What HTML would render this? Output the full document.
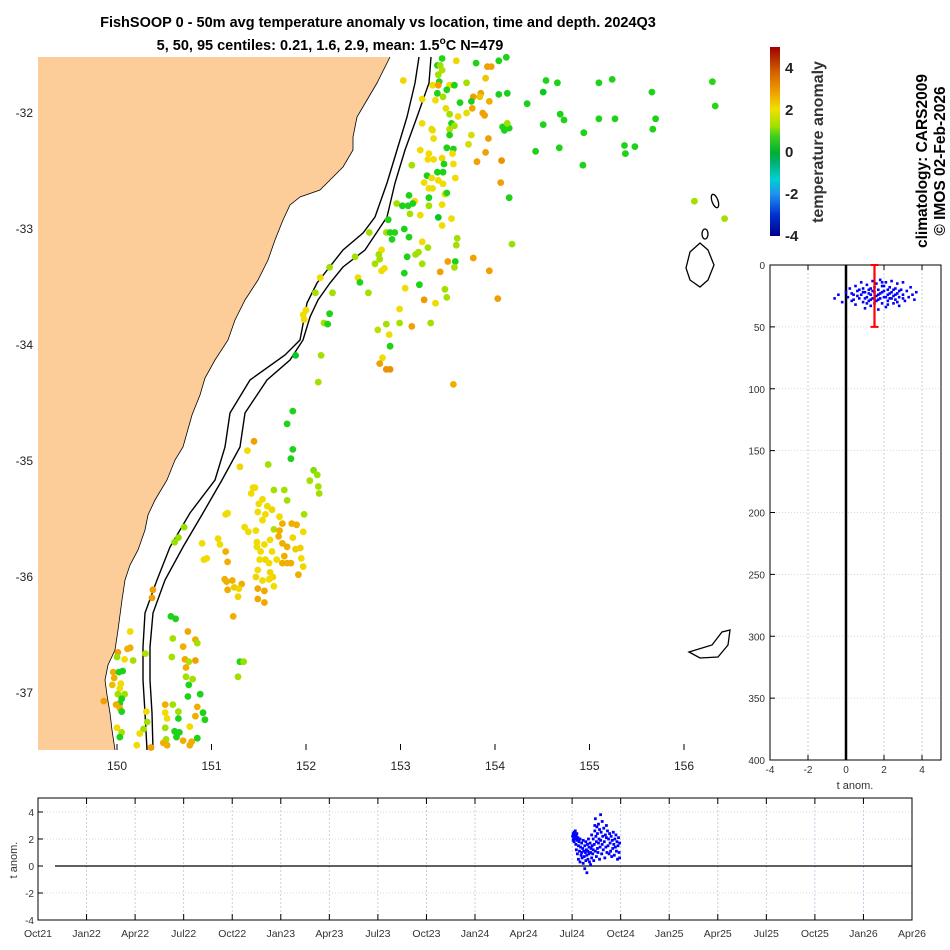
<!DOCTYPE html>
<html><head><meta charset="utf-8"><style>
html,body{margin:0;padding:0;background:#fff;}
svg{display:block;font-family:"Liberation Sans",sans-serif;}
</style></head><body>
<svg id="fig" width="950" height="950" viewBox="0 0 950 950">
<text x="378" y="27" text-anchor="middle" font-size="14.5" font-weight="bold">FishSOOP 0 - 50m avg temperature anomaly vs location, time and depth. 2024Q3</text>
<text x="330" y="50" text-anchor="middle" font-size="14.5" font-weight="bold">5, 50, 95 centiles: 0.21, 1.6, 2.9, mean: 1.5<tspan dy="-6" font-size="10">o</tspan><tspan dy="6">C N=479</tspan></text>
<g id="map">
<polygon fill="#fccc99" stroke="none" points="38,57 390,57 377,83 367,100 357,117 353,137 353,150 343,167 333,177 320,190 300,197 290,205 283,220 275,240 268,260 258,280 245,300 235,320 228,340 215,360 205,378 200,395 192,415 183,447 175,460 167,480 155,500 148,515 145,530 138,550 130,565 125,580 122,600 118,630 115,650 108,665 105,680 107,695 110,713 112,730 115,750 38,750"/>
<polyline fill="none" stroke="#000" stroke-width="0.8" points="390,57 377,83 367,100 357,117 353,137 353,150 343,167 333,177 320,190 300,197 290,205 283,220 275,240 268,260 258,280 245,300 235,320 228,340 215,360 205,378 200,395 192,415 183,447 175,460 167,480 155,500 148,515 145,530 138,550 130,565 125,580 122,600 118,630 115,650 108,665 105,680 107,695 110,713 112,730 115,750"/>
<polyline fill="none" stroke="#000" stroke-width="1.4" points="419,57 415,83 407,117 397,150 387,183 375,217 363,233 343,250 317,283 307,303 300,340 285,355 250,380 230,413 225,447 215,480 190,513 170,547 157,580 145,613 143,647 143,680 145,713 147,750"/>
<polyline fill="none" stroke="#000" stroke-width="1.4" points="431,57 429,83 417,117 405,150 395,183 387,217 365,250 343,267 330,283 318,300 310,317 303,340 290,360 267,380 245,413 240,447 222,480 203,513 183,547 165,580 153,613 150,647 150,680 152,713 153,750"/>
<ellipse cx="715" cy="201" rx="3" ry="7" fill="none" stroke="#000" stroke-width="1.3" transform="rotate(-20 715 201)"/>
<ellipse cx="705" cy="234" rx="3" ry="5" fill="none" stroke="#000" stroke-width="1.3"/>
<path d="M700,243 L708,250 L714,265 L708,280 L700,287 L690,280 L686,268 L690,252 Z" fill="none" stroke="#000" stroke-width="1.3"/>
<path d="M689,652 L712,645 L722,632 L730,630 L728,645 L718,657 L700,658 Z" fill="none" stroke="#000" stroke-width="1.3"/>
<g id="dots"></g>
<g id="mapticks" font-size="12" fill="#222"></g>
</g>
<g>
<defs><linearGradient id="cg" x1="0" y1="1" x2="0" y2="0">
<stop offset="0" stop-color="#00008c"/><stop offset="0.11" stop-color="#0030d0"/><stop offset="0.22" stop-color="#2090f0"/><stop offset="0.3" stop-color="#00d0d0"/><stop offset="0.39" stop-color="#00b070"/><stop offset="0.44" stop-color="#00b030"/><stop offset="0.53" stop-color="#40d020"/><stop offset="0.58" stop-color="#a0e000"/><stop offset="0.67" stop-color="#f0e000"/><stop offset="0.76" stop-color="#f0a000"/><stop offset="0.87" stop-color="#d06000"/><stop offset="1" stop-color="#a00000"/></linearGradient></defs>
<rect x="770" y="47" width="10" height="189" fill="url(#cg)"/>
<g font-size="15" font-weight="bold" fill="#222">
<text x="785" y="73">4</text><text x="785" y="115">2</text><text x="785" y="157">0</text><text x="785" y="199">-2</text><text x="785" y="241">-4</text></g>
<text transform="translate(823,142) rotate(-90)" text-anchor="middle" font-size="16" font-weight="bold" fill="#333">temperature anomaly</text>
</g>
<text transform="translate(927,161) rotate(-90)" text-anchor="middle" font-size="15.5" font-weight="bold">climatology: CARS2009</text>
<text transform="translate(945,161) rotate(-90)" text-anchor="middle" font-size="15.5" font-weight="bold">© IMOS 02-Feb-2026</text>
<g id="prof"></g>
<g id="ts"></g>
</svg>
<script>
const lon=[153.44,153.59,153.80,153.92,153.96,154.04,154.12,153.39,153.42,153.44,153.40,153.03,153.41,153.34,153.40,153.52,153.57,153.70,153.90,154.54,154.66,155.10,155.24,156.30,156.33,154.51,155.66,153.49,153.39,153.45,153.77,153.85,153.84,153.75,153.63,153.94,154.04,154.13,154.34,153.23,153.37,153.48,153.76,153.87,153.89,153.70,153.52,153.61,154.69,154.73,155.10,155.27,155.70,155.67,154.51,153.23,153.54,153.57,153.52,154.08,154.15,154.13,154.10,153.34,153.33,153.52,153.75,153.35,153.93,154.94,153.72,154.43,154.68,155.37,155.48,155.38,153.49,153.56,153.21,153.30,153.29,153.35,153.44,153.55,153.46,153.56,153.90,153.81,154.07,153.12,154.93,153.28,153.39,153.45,153.33,153.40,153.58,153.25,153.45,153.30,153.34,154.06,154.15,153.09,153.15,153.47,153.49,153.30,152.96,153.02,153.08,153.13,153.30,153.44,153.10,153.21,153.40,153.54,153.44,152.87,152.85,152.89,152.94,152.67,153.04,153.09,152.91,153.23,153.29,153.60,153.59,154.18,156.11,156.43,152.80,152.77,152.78,152.73,152.83,152.80,152.52,152.25,152.15,153.07,153.16,153.19,153.23,153.50,153.58,153.57,153.77,153.94,153.42,153.04,152.55,152.57,153.05,153.20,153.47,153.49,153.25,153.37,154.03,152.10,152.28,152.66,152.99,152.85,152.99,153.12,153.32,152.76,152.88,152.89,152.16,152.81,152.78,152.85,152.89,152.00,151.97,151.98,152.25,152.19,152.23,153.56,151.89,
152.13,151.86,151.80,151.45,151.38,151.86,151.84,151.60,151.30,152.08,152.12,152.04,152.13,152.14,151.44,151.46,151.42,151.66,151.77,151.80,151.54,151.50,151.59,151.64,151.49,151.57,151.54,151.98,151.17,151.15,151.72,151.35,151.39,151.47,151.66,151.75,151.85,151.90,151.72,151.86,151.97,151.71,151.75,151.80,151.89,151.94,151.62,151.56,151.48,151.48,151.52,151.64,151.57,151.51,151.61,151.69,151.77,151.75,151.80,151.84,151.95,151.97,151.49,151.47,151.62,151.65,151.61,151.54,151.66,151.92,151.49,151.56,151.49,151.56,151.07,151.09,150.90,150.92,150.95,151.15,151.17,151.14,151.16,151.22,151.32,151.24,151.29,151.17,151.28,151.23,150.71,150.65,150.61,150.38,150.37,150.57,150.62,151.30,151.34,151.28,150.14,150.11,150.14,150.01,150.00,150.08,150.17,150.30,150.75,150.83,150.85,150.59,150.70,150.58,150.72,150.83,150.76,150.73,150.73,150.80,150.76,150.75,150.88,149.96,150.02,150.06,149.97,149.95,150.04,150.03,150.01,150.08,150.05,150.03,149.99,150.03,150.05,149.86,150.31,150.32,150.28,150.24,150.21,150.51,150.59,150.85,150.91,150.93,150.65,150.51,150.53,150.65,150.83,150.51,150.61,150.66,150.77,150.52,150.70,150.79,150.85,150.49,150.53,150.63,150.77,150.00,150.05,150.03,150.36];
const lat=[-31.53,-31.55,-31.57,-31.60,-31.60,-31.55,-31.52,-31.59,-31.59,-31.63,-31.67,-31.72,-31.73,-31.76,-31.76,-31.76,-31.76,-31.74,-31.70,-31.72,-31.74,-31.74,-31.71,-31.73,-31.94,-31.82,-31.82,-31.80,-31.83,-31.86,-31.86,-31.83,-31.86,-31.90,-31.91,-31.90,-31.84,-31.83,-31.92,-31.88,-31.89,-31.96,-31.96,-32.00,-32.02,-32.00,-32.01,-32.03,-32.01,-32.06,-32.05,-32.05,-32.05,-32.14,-32.10,-32.09,-32.09,-32.11,-32.14,-32.12,-32.13,-32.09,-32.15,-32.15,-32.14,-32.19,-32.19,-32.22,-32.22,-32.17,-32.27,-32.33,-32.30,-32.28,-32.29,-32.35,-32.30,-32.31,-32.32,-32.35,-32.40,-32.40,-32.39,-32.35,-32.44,-32.44,-32.34,-32.42,-32.41,-32.45,-32.45,-32.54,-32.51,-32.51,-32.56,-32.58,-32.56,-32.60,-32.61,-32.65,-32.65,-32.60,-32.73,-32.71,-32.76,-32.70,-32.69,-32.73,-32.78,-32.80,-32.80,-32.78,-32.80,-32.79,-32.87,-32.88,-32.90,-32.91,-32.97,-32.92,-33.03,-33.03,-33.03,-33.03,-33.00,-33.07,-33.09,-33.11,-33.16,-33.08,-33.14,-33.13,-32.76,-32.91,-33.18,-33.22,-33.26,-33.30,-33.34,-33.36,-33.24,-33.33,-33.42,-33.24,-33.22,-33.20,-33.30,-33.28,-33.28,-33.33,-33.25,-33.36,-33.37,-33.38,-33.42,-33.46,-33.51,-33.48,-33.52,-33.59,-33.61,-33.64,-33.60,-33.55,-33.55,-33.55,-33.69,-33.82,-33.81,-33.84,-33.81,-33.87,-33.91,-34.01,-34.09,-34.11,-34.16,-34.21,-34.21,-33.70,-33.74,-33.78,-33.73,-33.81,-33.82,-34.34,-34.09,
-34.32,-34.57,-34.68,-34.83,-34.91,-34.90,-34.98,-35.03,-35.05,-35.08,-35.12,-35.17,-35.22,-35.28,-35.23,-35.23,-35.28,-35.25,-35.25,-35.34,-35.33,-35.37,-35.39,-35.42,-35.44,-35.46,-35.51,-35.46,-35.45,-35.46,-35.48,-35.57,-35.61,-35.60,-35.59,-35.54,-35.54,-35.55,-35.60,-35.66,-35.61,-35.65,-35.71,-35.74,-35.76,-35.75,-35.68,-35.72,-35.70,-35.74,-35.78,-35.78,-35.85,-35.85,-35.88,-35.85,-35.82,-35.88,-35.88,-35.88,-35.84,-35.91,-35.94,-36.00,-35.96,-36.00,-36.02,-36.03,-36.08,-35.98,-36.10,-36.12,-36.19,-36.22,-35.67,-35.72,-35.71,-35.85,-35.84,-35.78,-35.87,-36.02,-36.04,-36.03,-36.06,-36.09,-36.10,-36.11,-36.17,-36.34,-35.57,-35.66,-35.70,-36.11,-36.18,-36.34,-36.36,-36.73,-36.73,-36.86,-36.47,-36.62,-36.61,-36.65,-36.69,-36.71,-36.72,-36.66,-36.47,-36.54,-36.57,-36.53,-36.60,-36.69,-36.71,-36.72,-36.73,-36.78,-36.86,-36.88,-36.93,-37.03,-37.01,-36.82,-36.82,-36.81,-36.87,-36.93,-36.92,-36.96,-37.01,-37.01,-37.05,-37.09,-37.10,-37.13,-37.16,-37.07,-37.16,-37.25,-37.31,-37.35,-37.45,-37.10,-37.10,-37.12,-37.17,-37.23,-37.16,-37.17,-37.22,-37.22,-37.20,-37.30,-37.33,-37.34,-37.29,-37.40,-37.41,-37.42,-37.39,-37.43,-37.45,-37.38,-37.45,-37.30,-37.34,-37.38,-37.47];
const anom=[0.7,2.1,0.6,2.8,2.8,0.6,0.6,0.6,1.4,1.5,1.4,2.1,0.7,2.0,2.8,2.0,0.6,1.4,2.3,0.6,0.6,0.6,0.6,0.8,0.8,0.2,0.6,0.6,0.6,1.4,2.8,2.8,2.3,0.5,0.6,2.6,0.5,0.5,0.5,2.0,2.0,1.9,2.7,2.8,2.8,1.9,1.4,2.0,0.6,0.6,0.6,0.6,0.6,0.6,0.6,2.0,0.6,1.4,1.5,0.6,0.5,1.3,0.6,2.0,1.9,0.6,1.8,2.0,2.8,0.6,1.8,0.6,0.6,0.6,0.6,0.6,0.6,0.6,2.0,2.0,2.0,2.0,2.1,2.0,0.6,2.0,2.8,2.8,3.0,1.4,0.6,0.5,0.6,0.6,2.0,2.0,2.0,2.0,2.0,2.0,2.0,2.8,0.6,0.6,2.0,2.0,0.7,0.6,1.4,0.6,0.6,0.6,1.4,2.0,1.4,2.0,0.2,2.0,2.0,0.7,1.4,0.7,0.7,1.4,0.6,0.6,0.6,2.0,1.4,1.4,1.4,1.3,1.4,1.4,2.0,1.4,1.4,1.4,2.0,2.0,1.4,1.4,2.0,0.6,1.4,1.4,1.4,2.8,0.5,1.4,2.8,2.8,2.8,0.6,2.0,0.6,2.0,0.6,1.4,1.4,2.9,2.0,2.8,1.4,1.4,1.4,2.0,1.4,1.4,2.8,1.4,1.6,2.0,0.6,1.4,2.0,2.8,3.0,3.0,2.0,2.0,2.0,0.6,1.4,0.6,2.6,0.2,
1.4,0.6,0.6,2.8,2.0,0.6,0.6,1.4,2.1,1.2,1.3,1.4,1.4,1.4,2.0,2.0,2.0,1.4,1.4,1.4,2.0,2.0,2.0,2.1,2.0,2.0,2.0,1.4,2.0,2.0,2.0,2.0,2.0,2.0,1.5,2.6,2.6,2.6,2.6,2.1,2.0,2.6,2.6,2.6,2.2,2.2,2.0,2.0,2.0,2.0,2.0,2.0,2.1,2.0,2.0,2.0,2.6,2.6,2.6,2.6,2.0,2.1,2.0,2.1,2.1,2.1,2.0,2.0,2.0,2.6,2.7,2.7,2.7,2.7,2.0,2.0,2.0,2.0,2.0,2.6,2.6,2.6,2.6,2.6,2.6,2.2,2.1,2.6,2.1,2.6,1.3,1.3,1.3,2.8,2.8,0.6,0.6,0.7,1.3,1.4,2.0,2.6,2.6,2.8,1.3,2.0,1.4,1.5,2.7,2.6,1.4,1.4,2.6,1.4,2.7,2.8,1.5,2.6,1.4,1.4,0.6,0.6,0.6,2.6,0.6,0.6,2.6,2.4,2.0,2.0,1.4,1.4,0.6,0.6,2.6,2.6,0.6,2.8,2.0,1.4,1.4,2.0,2.0,2.6,1.4,2.6,0.6,0.6,1.4,2.0,2.0,0.6,2.6,1.4,0.6,0.6,2.0,1.4,2.6,2.6,0.6,2.6,2.6,0.6,2.6,2.0,1.4,0.6,2.8];
const lonTicks=[150,151,152,153,154,155,156];
const latTicks=[-32,-33,-34,-35,-36,-37];
const cbTicks=[4,2,0,-2,-4];
const timeDay=[1,2,2,3,4,4,5,6,6,7,8,8,9,10,10,11,12,12,13,14,15,15,16,17,18,18,19,20,21,21,22,23,24,24,25,26,26,27,28,28,29,30,30,31,32,32,33,34,35,35,36,37,37,38,39,40,40,41,42,43,43,44,44,45,46,46,47,48,48,49,50,50,51,52,52,53,54,54,55,56,57,57,58,59,60,61,62,63,64,65,65,66,67,68,69,70,71,72,73,74,75,76,77,78,79,80,81,82,83,84,85,86,87,88,89,90,90];
const timeAnom=[2.2,2.4,1.9,2.1,2.5,1.8,2.3,2.0,2.6,1.6,2.2,1.2,2.4,1.9,0.9,2.1,1.5,0.5,1.8,1.1,2.0,0.3,1.4,0.8,1.7,1.0,0.6,1.3,0.2,1.9,1.1,0.7,1.5,-0.2,1.0,0.4,1.8,1.2,-0.5,0.8,1.6,0.5,1.1,2.0,0.9,1.4,0.3,1.7,1.0,0.1,1.3,2.3,0.6,1.5,0.9,2.0,1.2,0.4,1.6,2.6,3.0,1.1,3.5,2.2,1.8,0.7,2.9,1.3,2.4,1.0,3.1,1.7,2.0,0.5,2.7,1.4,3.8,1.9,2.5,0.9,3.3,1.6,2.2,1.2,2.8,1.8,0.6,2.3,1.4,3.0,2.1,1.0,2.6,1.5,2.0,0.9,2.4,1.7,1.1,2.2,0.7,1.9,1.3,2.5,1.6,0.8,2.0,1.4,2.3,1.1,1.8,0.5,1.5,2.1,1.0,0.6,1.7];
const timeLabels=["Oct21","Jan22","Apr22","Jul22","Oct22","Jan23","Apr23","Jul23","Oct23","Jan24","Apr24","Jul24","Oct24","Jan25","Apr25","Jul25","Oct25","Jan26","Apr26"];
const anomTicks=[-4,-2,0,2,4];
const profAnom=[-0.6,-0.4,-0.2,0.0,0.1,0.2,0.3,0.4,0.5,0.5,0.6,0.7,0.8,0.8,0.9,0.9,1.0,1.0,1.1,1.1,1.2,1.2,1.3,1.3,1.4,1.4,1.5,1.5,1.5,1.6,1.6,1.7,1.7,1.7,1.8,1.8,1.9,1.9,2.0,2.0,2.1,2.1,2.2,2.2,2.3,2.3,2.4,2.4,2.5,2.5,2.6,2.6,2.7,2.7,2.8,2.8,2.9,3.0,3.0,3.1,3.2,3.3,3.4,3.5,3.6,3.7,0.6,0.9,1.1,1.3,1.5,1.7,1.9,2.1,2.3,2.5,2.7,0.4,1.2,1.6,2.0,2.4,2.8,0.7,1.0,1.4,1.8,2.2,2.6,3.0,0.3,1.9,1.3,2.2];
const profDepth=[27,24,30,22,26,19,29,24,17,32,21,27,14,24,30,19,35,22,26,16,29,20,33,24,13,27,18,31,22,25,15,36,28,20,23,12,31,17,26,21,34,14,24,29,18,27,22,13,31,25,19,28,23,15,33,26,20,24,14,29,21,26,18,24,28,22,25,22,31,19,27,24,22,26,23,20,30,28,23,29,17,27,21,20,27,21,27,20,24,27,23,14,28,32];
const depthTicks=[0,50,100,150,200,250,300,350,400];

const NS="http://www.w3.org/2000/svg";
function mk(tag,attrs,parent){const e=document.createElementNS(NS,tag);for(const k in attrs)e.setAttribute(k,attrs[k]);parent.appendChild(e);return e;}
const mapX=v=>117+(v-150)*94.5, mapY=v=>113+(-32-v)*116;
const stops=[[-4,[0,0,140]],[-3,[0,48,208]],[-2,[32,144,240]],[-1.3,[0,208,208]],[-0.5,[0,190,110]],[0,[0,195,40]],[0.8,[40,215,20]],[1.3,[150,225,0]],[2,[240,220,0]],[2.8,[240,160,0]],[3.8,[208,96,0]],[5,[160,0,0]]];
function cmap(v){v=Math.max(-4,Math.min(5,v));for(let i=0;i<stops.length-1;i++){const a=stops[i],b=stops[i+1];if(v<=b[0]){const t=(v-a[0])/(b[0]-a[0]);return 'rgb('+a[1].map((c,j)=>Math.round(c+(b[1][j]-c)*t)).join(',')+')';}}return 'rgb(160,0,0)';}
const dots=document.getElementById('dots');
for(let i=0;i<anom.length;i++){
 const c=mk('circle',{cx:mapX(lon[i]).toFixed(1),cy:mapY(lat[i]).toFixed(1),r:3.4,fill:cmap(anom[i])},dots);
 
 
}
const mt=document.getElementById('mapticks');
lonTicks.forEach(v=>{const x=mapX(v);
 mk('line',{x1:x,x2:x,y1:750,y2:744,stroke:'#000','stroke-width':1},mt);
 const t=mk('text',{x:x,y:770,'text-anchor':'middle'},mt);t.textContent=v;
 
 });
latTicks.forEach(v=>{const y=mapY(v);
 const t=mk('text',{x:33,y:y+4,'text-anchor':'end'},mt);t.textContent=v;
 
 });

// depth profile
const P=document.getElementById('prof');
const px=v=>846+v*19, py=d=>265+d*1.2375;
[-2,2,4].forEach(v=>mk('line',{x1:px(v),x2:px(v),y1:265,y2:760,stroke:'#b8c4e0','stroke-width':0.8,'stroke-dasharray':'2,2'},P));
depthTicks.slice(1,-1).forEach(d=>mk('line',{x1:770,x2:941,y1:py(d),y2:py(d),stroke:'#e0c8b8','stroke-width':0.8,'stroke-dasharray':'1,2'},P));
mk('rect',{x:770,y:265,width:171,height:495,fill:'none',stroke:'#000','stroke-width':1},P);
anomTicks.forEach(v=>{mk('line',{x1:px(v),x2:px(v),y1:265,y2:270,stroke:'#000'},P);mk('line',{x1:px(v),x2:px(v),y1:760,y2:755,stroke:'#000'},P);
 const t=mk('text',{x:px(v),y:773,'text-anchor':'middle','font-size':10,fill:'#333'},P);t.textContent=v;
 
 });
depthTicks.forEach(d=>{mk('line',{x1:770,x2:775,y1:py(d),y2:py(d),stroke:'#000'},P);
 const t=mk('text',{x:765,y:py(d)+4,'text-anchor':'end','font-size':10,fill:'#333'},P);t.textContent=d;
 
 });
mk('line',{x1:px(0),x2:px(0),y1:265,y2:760,stroke:'#000','stroke-width':2.5},P);
for(let i=0;i<profAnom.length;i++){const r=mk('rect',{x:px(profAnom[i])-1.3,y:py(profDepth[i])-1.3,width:2.6,height:2.6,fill:'#0000ff'},P);
 
 }
const ex=px(1.5);
mk('line',{x1:ex,x2:ex,y1:py(0),y2:py(50),stroke:'#ff0000','stroke-width':2.2},P);
mk('line',{x1:ex-4,x2:ex+4,y1:py(0),y2:py(0),stroke:'#ff0000','stroke-width':2},P);
mk('line',{x1:ex-4,x2:ex+4,y1:py(50),y2:py(50),stroke:'#ff0000','stroke-width':2},P);
const pl=mk('text',{x:855,y:789,'text-anchor':'middle','font-size':11,fill:'#333'},P);pl.textContent='t anom.';



// time series
const T=document.getElementById('ts');
const tx=m=>38+m/54*874, ty=a=>866-a*13.5;
timeLabels.forEach((l,i)=>{const x=tx(i*3);
 if(i>0&&i<18)mk('line',{x1:x,x2:x,y1:798,y2:920,stroke:'#b8c4e0','stroke-width':0.8,'stroke-dasharray':'2,2'},T);
 mk('line',{x1:x,x2:x,y1:798,y2:804,stroke:'#000'},T);mk('line',{x1:x,x2:x,y1:920,y2:914,stroke:'#000'},T);
 const t=mk('text',{x:x,y:937,'text-anchor':'middle','font-size':10.5,fill:'#333'},T);t.textContent=l;
 
 });
[-2,2,4].forEach(v=>mk('line',{x1:38,x2:912,y1:ty(v),y2:ty(v),stroke:'#e0c8b8','stroke-width':0.8,'stroke-dasharray':'1,2'},T));
mk('rect',{x:38,y:798,width:874,height:122,fill:'none',stroke:'#000','stroke-width':1},T);
mk('line',{x1:55,x2:912,y1:ty(0),y2:ty(0),stroke:'#000','stroke-width':1.2},T);
anomTicks.forEach(v=>{mk('line',{x1:38,x2:43,y1:ty(v),y2:ty(v),stroke:'#000'},T);
 const t=mk('text',{x:34,y:ty(v)+4,'text-anchor':'end','font-size':10,fill:'#333'},T);t.textContent=v;
 
 });
for(let i=0;i<timeDay.length;i++){const r=mk('rect',{x:tx(33+timeDay[i]/30.67)-1.4,y:ty(timeAnom[i])-1.4,width:2.8,height:2.8,fill:'#0000ff'},T);
 
 }
const yl=mk('text',{transform:'translate(17,860) rotate(-90)','text-anchor':'middle','font-size':11,fill:'#333'},T);yl.textContent='t anom.';


</script>
</body></html>
